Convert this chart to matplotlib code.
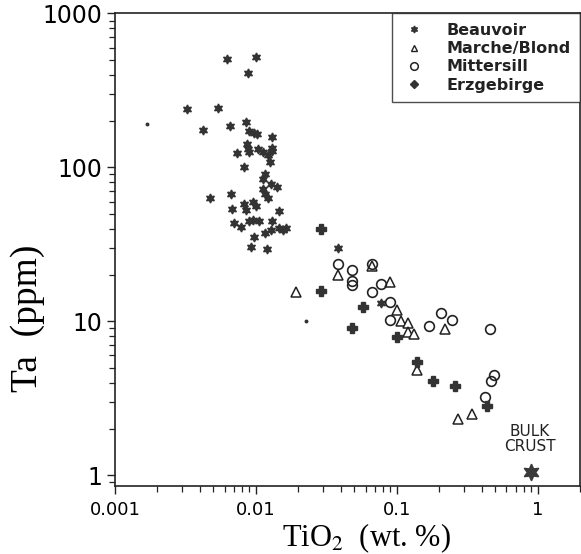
import matplotlib
matplotlib.use("Agg")
import matplotlib.pyplot as plt
from matplotlib.lines import Line2D
from matplotlib.ticker import LogLocator, NullFormatter

# Beauvoir (TiO2 wt.%, Ta ppm)
beau_ti = [0.00625, 0.00995, 0.00875, 0.00325, 0.00536, 0.00418, 0.0065, 0.00848,
           0.0089, 0.0097, 0.0101, 0.0130, 0.0086, 0.0088, 0.0089, 0.0103, 0.0112,
           0.0122, 0.0130, 0.0130, 0.0073, 0.0125, 0.0083, 0.0116, 0.0112, 0.0127,
           0.0142, 0.0112, 0.0116, 0.0121, 0.0067, 0.0047, 0.0068, 0.0082, 0.0085,
           0.0096, 0.0100, 0.0146, 0.0070, 0.0078, 0.0090, 0.0096, 0.0106, 0.0130,
           0.0116, 0.0127, 0.0145, 0.0155, 0.0164, 0.0097, 0.0093, 0.0120, 0.038,
           0.077]
beau_ta = [507, 518, 411, 239, 242, 175, 185, 197,
           172, 167, 165, 158, 141, 132, 125, 131, 125,
           121, 133, 127, 124, 109, 100, 90, 84, 78,
           74, 72, 67, 63, 67, 63, 54, 58, 53,
           60, 56.5, 52, 43.4, 41, 44.5, 45.6, 44.5, 44.5,
           37.3, 39.3, 40.2, 39.3, 40.6, 35.4, 30.4, 29.7, 30.1,
           13.2]

# Marche/Blond
mb_ti = [0.0194, 0.038, 0.067, 0.089, 0.10, 0.108, 0.12, 0.12, 0.132, 0.22,
         0.14, 0.34, 0.27]
mb_ta = [15.5, 20, 23, 18, 11.9, 10, 9.7, 8.5, 8.3, 8.9, 4.8, 2.5, 2.3]

# Mittersill
mit_ti = [0.038, 0.048, 0.048, 0.048, 0.067, 0.067, 0.077, 0.089, 0.089, 0.17,
          0.207, 0.247, 0.46, 0.49, 0.47, 0.42]
mit_ta = [23.4, 21.4, 18.4, 17.2, 23.4, 15.4, 17.4, 13.4, 10.2, 9.3,
          11.3, 10.2, 8.9, 4.5, 4.1, 3.2]

# Erzgebirge
erz_ti = [0.029, 0.029, 0.058, 0.048, 0.10, 0.14, 0.18, 0.26, 0.44]
erz_ta = [40, 15.8, 12.4, 9.0, 7.9, 5.4, 4.1, 3.8, 2.8]

# stray dots
dot_ti = [0.0017, 0.0226]
dot_ta = [190, 10]

crust_ti = [0.9]
crust_ta = [1.05]

plt.rcParams['mathtext.fontset'] = 'stix'

fig = plt.figure(figsize=(5.81, 5.54), dpi=100)
ax = fig.add_axes([0.198, 0.1227, 0.8003, 0.853])

star6 = (6, 1, 0)
ax.plot(beau_ti, beau_ta, ls='none', marker=star6, ms=6.5, color='#333333', mec='#333333')
ax.plot(mb_ti, mb_ta, ls='none', marker='^', ms=6.5, mfc='white', mec='#222222', mew=1.1)
ax.plot(mit_ti, mit_ta, ls='none', marker='o', ms=7, mfc='none', mec='#222222', mew=1.2)
ax.plot(erz_ti, erz_ta, ls='none', marker='P', ms=7, color='#333333', mec='#333333')
ax.plot(dot_ti, dot_ta, ls='none', marker='o', ms=1.8, color='#333333')
ax.plot(crust_ti, crust_ta, ls='none', marker=star6, ms=12, color='#3a3a3a')

ax.text(0.88, 1.72, 'BULK\nCRUST', ha='center', va='center', fontsize=11,
        family='DejaVu Sans', linespacing=1.05, color='#222222')

ax.set_xscale('log')
ax.set_yscale('log')
ax.set_xlim(0.001, 2.0)
ax.set_ylim(0.85, 1000)

ax.set_xticks([0.001, 0.01, 0.1, 1])
ax.set_xticklabels(['0.001', '0.01', '0.1', '1'], fontsize=13)
ax.set_yticks([1, 10, 100, 1000])
ax.set_yticklabels(['1', '10', '100', '1000'], fontsize=17)
ax.xaxis.set_minor_locator(LogLocator(base=10, subs=range(2, 10), numticks=20))
ax.yaxis.set_minor_locator(LogLocator(base=10, subs=range(2, 10), numticks=20))
ax.xaxis.set_minor_formatter(NullFormatter())
ax.yaxis.set_minor_formatter(NullFormatter())
ax.tick_params(which='major', length=6, width=1, direction='out', pad=3, color='#222222')
ax.tick_params(which='minor', length=4, width=0.9, direction='out', color='#222222')
ax.tick_params(axis='x', which='major', pad=5)
for s in ax.spines.values():
    s.set_linewidth(1.2)
    s.set_color('#222222')

ax.set_xlabel(r'TiO$_{\rm 2}$  (wt. %)', family='Liberation Serif', fontsize=22, labelpad=0)
ax.xaxis.set_label_coords(0.54, -0.075)
ax.set_ylabel('Ta  (ppm)', family='Liberation Serif', fontsize=27)
ax.yaxis.set_label_coords(-0.15, 0.355)

handles = [
    Line2D([], [], ls='none', marker=star6, ms=5, color='#333333'),
    Line2D([], [], ls='none', marker='^', ms=5, mfc='white', mec='#222222', mew=1),
    Line2D([], [], ls='none', marker='o', ms=5.5, mfc='none', mec='#222222', mew=1.1),
    Line2D([], [], ls='none', marker='D', ms=4, color='#333333'),
]
labels = ['Beauvoir', 'Marche/Blond', 'Mittersill', 'Erzgebirge']
leg = ax.legend(handles, labels, loc='upper right', frameon=True,
                prop={'size': 11.5, 'weight': 'bold', 'family': 'DejaVu Sans'},
                fancybox=False, edgecolor='#222222', borderaxespad=0,
                labelspacing=0.2, handletextpad=1.2, handlelength=1.6,
                borderpad=0.6)
leg.get_frame().set_linewidth(1.0)
for t in leg.get_texts():
    t.set_color('#222222')

fig.savefig('out.png', dpi=100)
